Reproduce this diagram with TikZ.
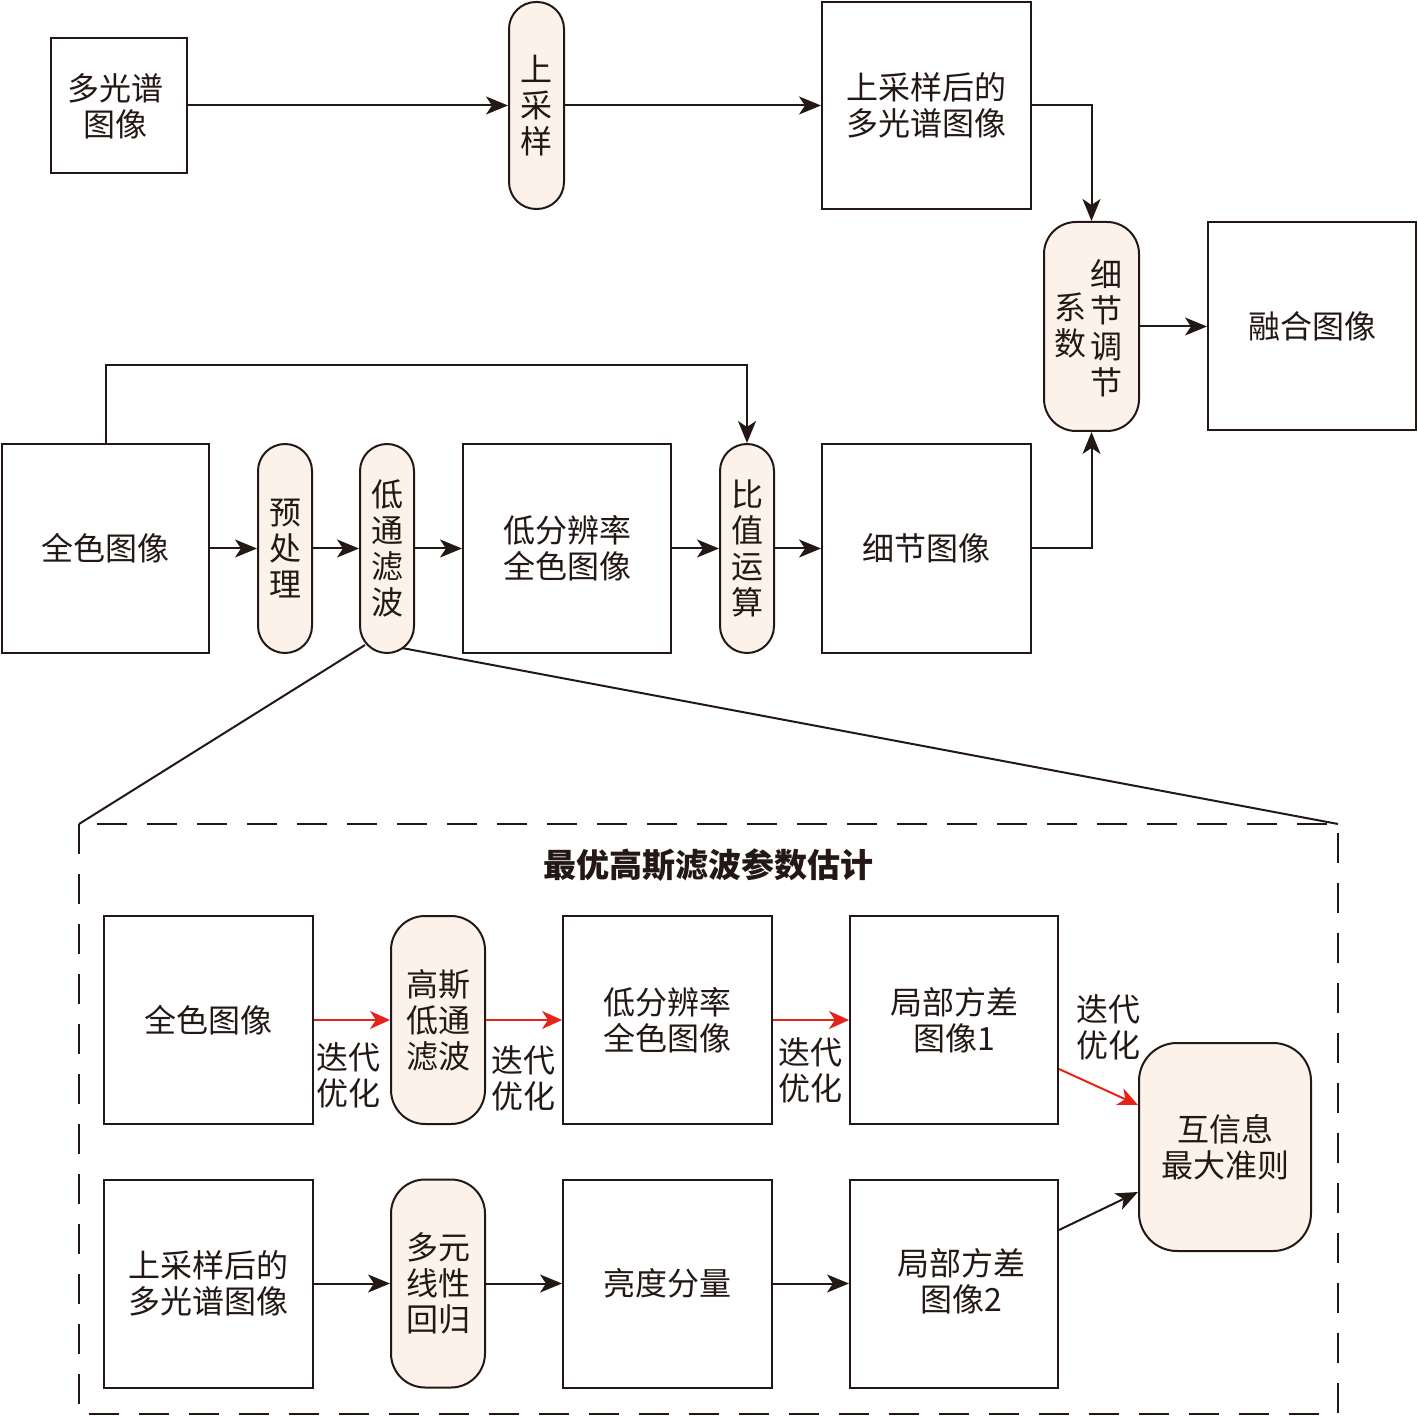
\documentclass[tikz,border=0pt]{standalone}
\usepackage{fontspec}
\setmainfont{Noto Sans CJK SC}
\usetikzlibrary{arrows.meta}
\definecolor{ink}{RGB}{35,24,21}
\definecolor{pillfill}{RGB}{253,242,234}
\definecolor{redline}{RGB}{230,35,25}
\begin{document}
\begin{tikzpicture}[x=0.5pt,y=-0.5pt,
  txt/.style={font=\fontsize{16pt}{18pt}\selectfont, text=ink, align=center, inner sep=0pt},
  box/.style={txt, draw=ink, line width=1pt, minimum width=104.5pt, minimum height=104pt},
  pill/.style={txt, draw=ink, line width=1pt, fill=pillfill, minimum width=27.5pt, minimum height=104pt, rounded corners=13.5pt},
  wpill/.style={txt, draw=ink, line width=1pt, fill=pillfill, minimum width=47pt, minimum height=104pt, rounded corners=17pt},
  arr/.style={draw=ink, line width=1pt, -{Stealth[length=11pt,width=9pt,inset=3pt]}},
  redarr/.style={draw=redline, line width=1pt, -{Stealth[length=10pt,width=9pt,inset=3pt]}},
  plain/.style={draw=ink, line width=1pt},
  dashbox/.style={draw=ink, line width=1pt, dash pattern=on 15pt off 10pt}
]
\path[use as bounding box] (0,0) rectangle (1418,1416);

% ---------- top row ----------
\node[box, minimum width=68pt, minimum height=67.5pt] (ms) at (119,105.5) {};
\node[txt] (mst) at (115,106) {多光谱\\图像};
\node[pill, minimum height=103.5pt] (up) at (536.5,105.5) {上\\采\\样};
\node[box, minimum height=103.5pt] (ums) at (926.5,105.5) {上采样后的\\多光谱图像};
\node[wpill, minimum width=47.5pt, minimum height=104.5pt, rounded corners=16pt] (adj) at (1091.5,326.5) {};
\node[txt] (adjR) at (1106,328) {细\\节\\调\\节};
\node[txt] (adjL) at (1070,326) {系\\数};
\node[box, minimum width=104pt] (fus) at (1312,326.5) {融合图像};

\draw[arr] (ms.east) -- (up.west);
\draw[arr] (up.east) -- (ums.west);
\draw[arr] (ums.east) -| (adj.north);
\draw[arr] (adj.east) -- (fus.west);

% ---------- middle row ----------
\node[box, minimum width=103.5pt, minimum height=104.5pt] (pan) at (105.5,548.5) {全色图像};
\node[pill, minimum width=27pt, minimum height=104.5pt] (pre) at (285,548.5) {预\\处\\理};
\node[pill, minimum width=27pt, minimum height=104.5pt] (lpf) at (387,548.5) {低\\通\\滤\\波};
\node[box, minimum width=104pt, minimum height=104.5pt] (lowpan) at (567,548.5) {低分辨率\\全色图像};
\node[pill, minimum width=27pt, minimum height=104.5pt] (ratio) at (747,548.5) {比\\值\\运\\算};
\node[box, minimum height=104.5pt] (det) at (926.5,548.5) {细节图像};

\draw[arr] (pan.east) -- (pre.west);
\draw[arr] (pre.east) -- (lpf.west);
\draw[arr] (lpf.east) -- (lowpan.west);
\draw[arr] (lowpan.east) -- (ratio.west);
\draw[arr] (ratio.east) -- (det.west);
\draw[arr] (det.east) -| (adj.south);
\coordinate (bend) at (747,365);
\draw[arr] (pan.north) |- (bend) -- (ratio.north);

% ---------- zoom lines and dashed frame ----------
\coordinate (dtl) at (79,824);
\coordinate (dtr) at (1338,824);
\coordinate (dbr) at (1338,1414);
\coordinate (zl) at (365,645);
\coordinate (zr) at (402,648);
\draw[plain] (zl) -- (dtl);
\draw[plain] (zr) -- (dtr);
\draw[dashbox] (dtl) rectangle (dbr);

\node[txt, font=\fontsize{16.5pt}{18pt}\selectfont\bfseries] (title) at (708,865) {最优高斯滤波参数估计};

% ---------- inner row 1 ----------
\node[box] (ipan) at (208.5,1020) {全色图像};
\node[wpill] (gauss) at (438,1020) {高斯\\低通\\滤波};
\node[box] (ilow) at (667.5,1020) {低分辨率\\全色图像};
\node[box, minimum width=104pt] (lv1) at (954,1020) {局部方差\\图像1};
\node[wpill, minimum width=86pt, rounded corners=19pt] (mi) at (1225,1147) {互信息\\最大准则};

\draw[redarr] (ipan.east) -- (gauss.west);
\draw[redarr] (gauss.east) -- (ilow.west);
\draw[redarr] (ilow.east) -- (lv1.west);
\draw[redarr] ([yshift=-24.5pt]lv1.east) -- ([yshift=21pt]mi.west);

\node[txt] (it1) at (348,1075) {迭代\\优化};
\node[txt] (it2) at (523,1078) {迭代\\优化};
\node[txt] (it3) at (810,1070) {迭代\\优化};
\node[txt] (it4) at (1108,1027) {迭代\\优化};

% ---------- inner row 2 ----------
\node[box] (iums) at (208.5,1283.5) {上采样后的\\多光谱图像};
\node[wpill] (mlr) at (438,1283.5) {多元\\线性\\回归};
\node[box] (lum) at (667.5,1283.5) {亮度分量};
\node[box, minimum width=104pt] (lv2) at (954,1283.5) {};
\node[txt] (lv2t) at (961,1281) {局部方差\\图像2};

\draw[arr] (iums.east) -- (mlr.west);
\draw[arr] (mlr.east) -- (lum.west);
\draw[arr] (lum.east) -- (lv2.west);
\draw[arr] ([yshift=26.75pt]lv2.east) -- ([yshift=-22.5pt]mi.west);
\end{tikzpicture}
\end{document}
